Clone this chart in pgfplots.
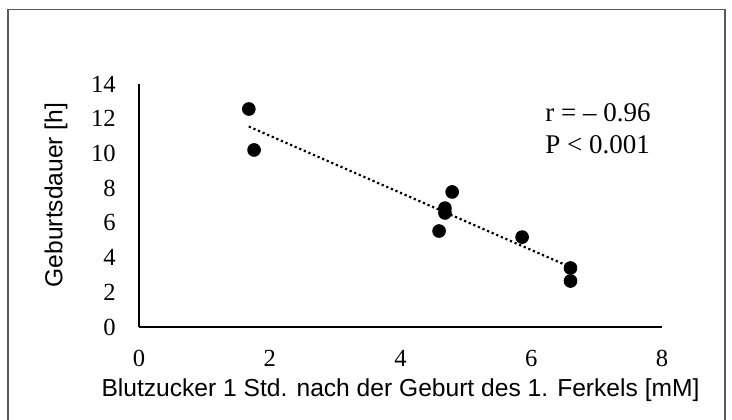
\documentclass[border=0pt]{standalone}
\usepackage{fontspec}
\setmainfont{Liberation Serif}
\newfontfamily\arial{Liberation Sans}
\usepackage{pgfplots}
\pgfplotsset{compat=1.18}
\begin{document}
\begin{tikzpicture}[x=0.5pt,y=0.5pt]
\useasboundingbox (0,0) rectangle (732,419);
\begin{scope}
\clip (0,0) rectangle (732,419);
\draw[line width=0.8pt, color=black!65] (8,409.5) rectangle (725,-10);
\end{scope}
\begin{axis}[
  at={(69.5pt,46pt)}, anchor=south west,
  scale only axis, width=261.5pt, height=121.5pt,
  xmin=0, xmax=8, ymin=0, ymax=14,
  xtick={0,2,4,6,8}, ytick={0,2,4,6,8,10,12,14},
  axis x line=bottom, axis y line=left,
  axis line style={-, line width=1.3pt, black},
  major tick length=0pt, tick style={draw=none},
  clip=false,
  /pgf/number format/assume math mode=true,
  ticklabel style={font=\fontsize{12.3}{14}\selectfont, inner sep=0pt},
  xticklabel style={anchor=center, yshift=-15.5pt},
  yticklabel style={anchor=east, xshift=-11.5pt},
  xlabel={Blutzucker 1 Std. nach der Geburt des 1. Ferkels [mM]},
  label style={font=\arial\fontsize{12.3}{14}\selectfont},
  xlabel style={at={(axis description cs:0.5,0)}, anchor=center, yshift=-31.5pt},
]
\addplot[black, line width=1.1pt, dash pattern=on 1.1pt off 1.4pt] coordinates {(1.68,11.55) (6.6,3.45)};
\addplot[only marks, mark=*, mark size=3.2pt, black] coordinates {
(1.68,12.56) (1.76,10.2) (4.79,7.78) (4.68,6.85) (4.68,6.57) (4.59,5.53) (5.86,5.18) (6.6,3.4) (6.6,2.65)};
\end{axis}
\node[rotate=90, anchor=center, inner sep=0pt, font=\arial\fontsize{12.3}{14}\selectfont] at (56,224) {Geburtsdauer [h]};
\node[anchor=base west, inner sep=0pt, font=\fontsize{13.5}{15}\selectfont] at (545,298) {r = – 0.96};
\node[anchor=base west, inner sep=0pt, font=\fontsize{13.5}{15}\selectfont] at (545,266) {P < 0.001};
\end{tikzpicture}
\end{document}
